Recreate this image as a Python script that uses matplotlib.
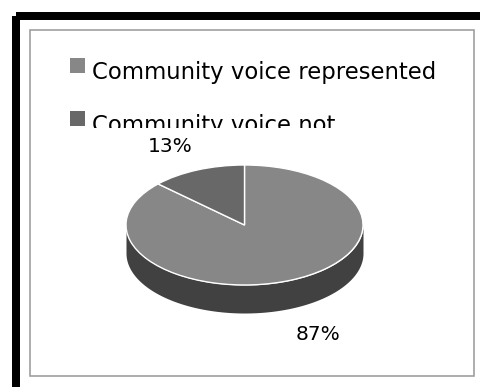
import numpy as np
import matplotlib.pyplot as plt
from matplotlib.patches import Rectangle

# data
legend_labels = ["Community voice represented", "Community voice not"]
shares = [87, 13]
pct_labels = ["87%", "13%"]
top_colors = ["#878787", "#686868"]
side_color = "#414141"

W, H = 480, 387
fig = plt.figure(figsize=(W / 100, H / 100), dpi=100)
ax = fig.add_axes([0, 0, 1, 1])
ax.set_xlim(0, W)
ax.set_ylim(H, 0)
ax.axis("off")

# black outer frame, cropped on the right and bottom
ax.add_patch(Rectangle((16, 16), 500, 420, fill=False, ec="black", lw=8 * 0.72))
# thin grey chart-area border
ax.add_patch(Rectangle((30, 30), 444, 346, fill=False, ec="#9c9c9c", lw=1.6 * 0.72))

# legend (second entry is cut off by the plot area, as in the original)
sq = 15
clip = Rectangle((0, 0), W, 128, transform=ax.transData)
for i, (lab, col) in enumerate(zip(legend_labels, top_colors)):
    base = 79 + 53 * i
    ax.add_patch(Rectangle((70, base - 21), sq, sq, color=col, lw=0,
                           clip_path=clip))
    t = ax.text(92, base, lab, fontsize=16.4, va="baseline", ha="left",
                color="black", clip_on=True)
    t.set_clip_path(clip)

# 3d-ish pie: top ellipse plus a dark side band
cx, cy, rx, ry, depth = 244.5, 225, 118.5, 60, 28
d = depth / ry
pax = fig.add_axes([(cx - rx) / W, (H - cy - ry - depth) / H,
                    2 * rx / W, (2 * ry + depth) / H])

theta = np.linspace(np.pi, 2 * np.pi, 300)
pax.fill_between(np.cos(theta), np.sin(theta), np.sin(theta) - d,
                 color=side_color, lw=0)
pax.pie(shares, colors=top_colors, startangle=90, counterclock=False,
        wedgeprops=dict(edgecolor="white", linewidth=1.0))
pax.set_aspect("auto")
pax.set_xlim(-1, 1)
pax.set_ylim(-1 - d, 1)
pax.axis("off")

# percentage labels
ax.text(318, 335, pct_labels[0], fontsize=14.5, ha="center", va="center")
ax.text(170, 147, pct_labels[1], fontsize=14.5, ha="center", va="center")

fig.savefig("out.png", dpi=100)
